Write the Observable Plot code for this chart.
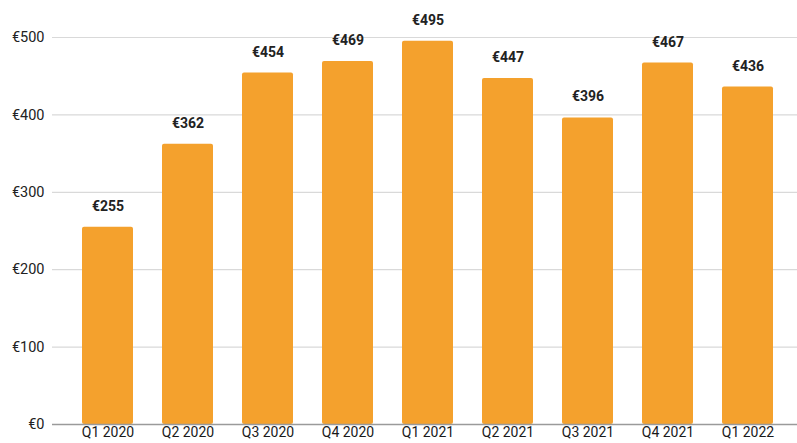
<!DOCTYPE html>
<html>
<head>
<meta charset="utf-8">
<script src="https://cdn.jsdelivr.net/npm/d3@7"></script>
<script src="https://cdn.jsdelivr.net/npm/@observablehq/plot@0.6"></script>
<style>
  html, body { margin: 0; padding: 0; background: #fff; }
  #chart svg { display: block; }
</style>
</head>
<body>
<div id="chart"></div>
<script>
const quarters = ["Q1 2020", "Q2 2020", "Q3 2020", "Q4 2020", "Q1 2021", "Q2 2021", "Q3 2021", "Q4 2021", "Q1 2022"];
const values = [255, 362, 454, 469, 495, 447, 396, 467, 436];
const yTicks = [0, 100, 200, 300, 400, 500];

const data = quarters.map((q, i) => ({quarter: q, value: values[i]}));
const euro = d => "€" + d;

const chart = Plot.plot({
  width: 797,
  height: 443,
  marginTop: 37,
  marginBottom: 19,
  marginLeft: 52,
  marginRight: 0,
  style: {fontFamily: "Roboto, 'Liberation Sans', sans-serif", background: "#fff"},
  x: {domain: quarters, paddingInner: 0.364, paddingOuter: 0.3265, align: 0.56, label: null, tickSize: 0, tickPadding: 3},
  y: {domain: [0, 500], label: null, ticks: yTicks, tickFormat: euro, tickSize: 0, tickPadding: 8},
  marks: [
    Plot.ruleY(yTicks.filter(d => d > 0), {stroke: "#d9d9d9", strokeWidth: 1.2}),
    Plot.barY(data, {x: "quarter", y: "value", fill: "#F4A12D", rx: 2}),
    Plot.ruleY([0], {stroke: "#9a9a9a", strokeWidth: 1.5}),
    Plot.text(data, {x: "quarter", y: "value", text: d => euro(d.value), dy: -21, fontWeight: "bold", fontSize: 14, fill: "#222"}),
    Plot.axisY({ticks: yTicks, tickFormat: euro, tickSize: 0, tickPadding: 8, fontSize: 14.5, fill: "#222", label: null}),
    Plot.axisX({tickSize: 0, tickPadding: 3, fontSize: 14, fill: "#1a1a1a", label: null})
  ]
});
document.getElementById("chart").appendChild(chart);
</script>
</body>
</html>
